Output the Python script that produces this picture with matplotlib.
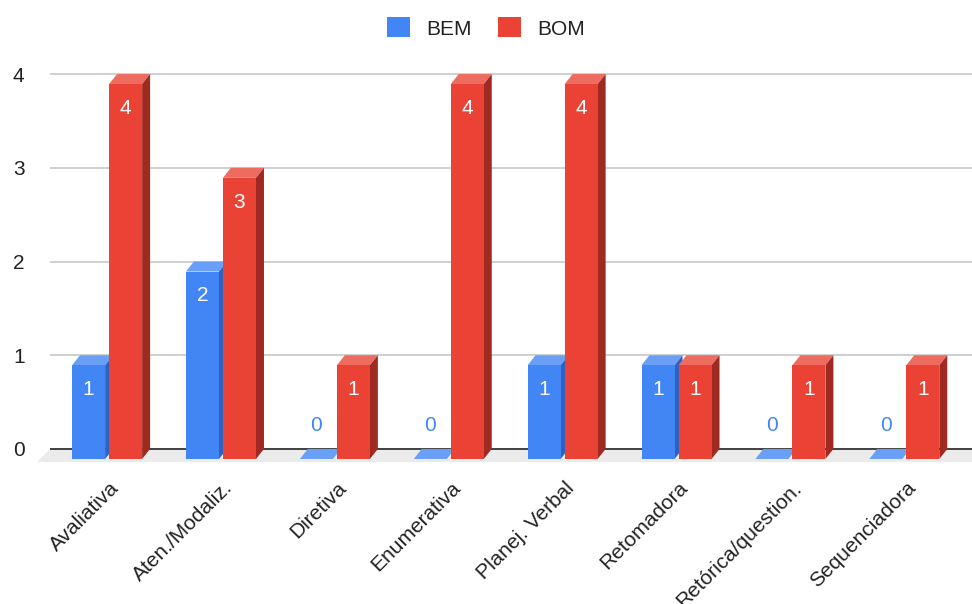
import matplotlib.pyplot as plt
from matplotlib.patches import Polygon, Patch
import matplotlib.transforms as mtransforms
import numpy as np

plt.rcParams['font.family'] = ['Liberation Sans', 'DejaVu Sans']

categories = ["Avaliativa", "Aten./Modaliz.", "Diretiva", "Enumerativa",
              "Planej. Verbal", "Retomadora", "Retórica/question.", "Sequenciadora"]
bem = [1, 2, 0, 0, 1, 1, 0, 0]
bom = [4, 3, 1, 4, 4, 1, 1, 1]
series_names = ["BEM", "BOM"]
y_ticks = [0, 1, 2, 3, 4]

# front / top / side shades for the fake 3d columns
colors = {
    "BEM": ("#4285f4", "#6a9ff7", "#2f62c0"),
    "BOM": ("#ea4335", "#ee6b60", "#9e2a22"),
}

bar_w = 0.29
offsets = [-0.307, 0.018]
dx, dy = 0.070, 0.107      # depth of the columns (back plane is the value axis)
x_lim = (-0.615, 7.595)
y_lim = (-0.15, 4.15)
fs = 15

fig = plt.figure(figsize=(9.72, 6.04), dpi=100)
ax = fig.add_axes([37/972, 141/604, 935/972, 403/604])
ax.set_xlim(x_lim)
ax.set_ylim(y_lim)
for s in ax.spines.values():
    s.set_visible(False)

# floor
fl = 0.115
floor = Polygon([(-0.5, 0), (x_lim[1] + 0.2, 0), (x_lim[1] + 0.2 - fl, -0.14), (-0.5 - fl, -0.14)],
                closed=True, facecolor="#ebebeb", edgecolor="none", zorder=1)
ax.add_patch(floor)

ax.hlines(y_ticks[1:], -0.5, x_lim[1] + 0.2, color="#cccccc", linewidth=1.3, zorder=0)
ax.hlines([0], -0.5, x_lim[1] + 0.2, color="#333333", linewidth=1.3, zorder=2)

x = np.arange(len(categories))
for i in range(len(categories)):
    for name, vals, off in zip(series_names, [bem, bom], offsets):
        v = vals[i]
        front, top, side = colors[name]
        xl = x[i] + off
        xr = xl + bar_w
        z = 3 + i * 2 + (1 if name == "BOM" else 0)
        # top face
        ax.add_patch(Polygon([(xl, v - dy), (xr, v - dy), (xr + dx, v), (xl + dx, v)],
                             closed=True, facecolor=top, edgecolor="none", zorder=z))
        if v > 0:
            ax.add_patch(Polygon([(xr, -dy), (xr + dx, 0), (xr + dx, v), (xr, v - dy)],
                                 closed=True, facecolor=side, edgecolor="none", zorder=z))
            ax.add_patch(Polygon([(xl, -dy), (xr, -dy), (xr, v - dy), (xl, v - dy)],
                                 closed=True, facecolor=front, edgecolor="none", zorder=z))
            ax.annotate(str(v), (xl + bar_w / 2, v - dy), xytext=(0, -17.5),
                        textcoords="offset points", ha="center", va="center",
                        color="white", fontsize=fs, zorder=z + 0.5)
        else:
            ax.annotate(str(v), (xl + bar_w / 2, v - dy), xytext=(0, 24),
                        textcoords="offset points", ha="center", va="center",
                        color=front, fontsize=fs, zorder=z + 0.5)

ax.set_yticks(y_ticks)
ax.set_yticklabels([str(t) for t in y_ticks])
ax.tick_params(axis="y", length=0, pad=9, labelsize=fs, labelcolor="#222222")

ax.set_xticks(x)
ax.set_xticklabels(categories, rotation=45, ha="right", rotation_mode="anchor")
ax.tick_params(axis="x", length=0, pad=11, labelsize=fs, labelcolor="#222222")
shift = mtransforms.ScaledTranslation(2/100, 0, fig.dpi_scale_trans)
for lbl in ax.get_xticklabels():
    lbl.set_transform(lbl.get_transform() + shift)

handles = [Patch(facecolor=colors[n][0], edgecolor="none") for n in series_names]
fig.legend(handles, series_names, loc="center", bbox_to_anchor=(0.5, 1 - 28/604), ncol=2,
           frameon=False, fontsize=fs, handlelength=1.1, handleheight=1.1,
           handletextpad=0.75, columnspacing=1.3, labelcolor="#222222")

fig.savefig("out.png", dpi=100)
